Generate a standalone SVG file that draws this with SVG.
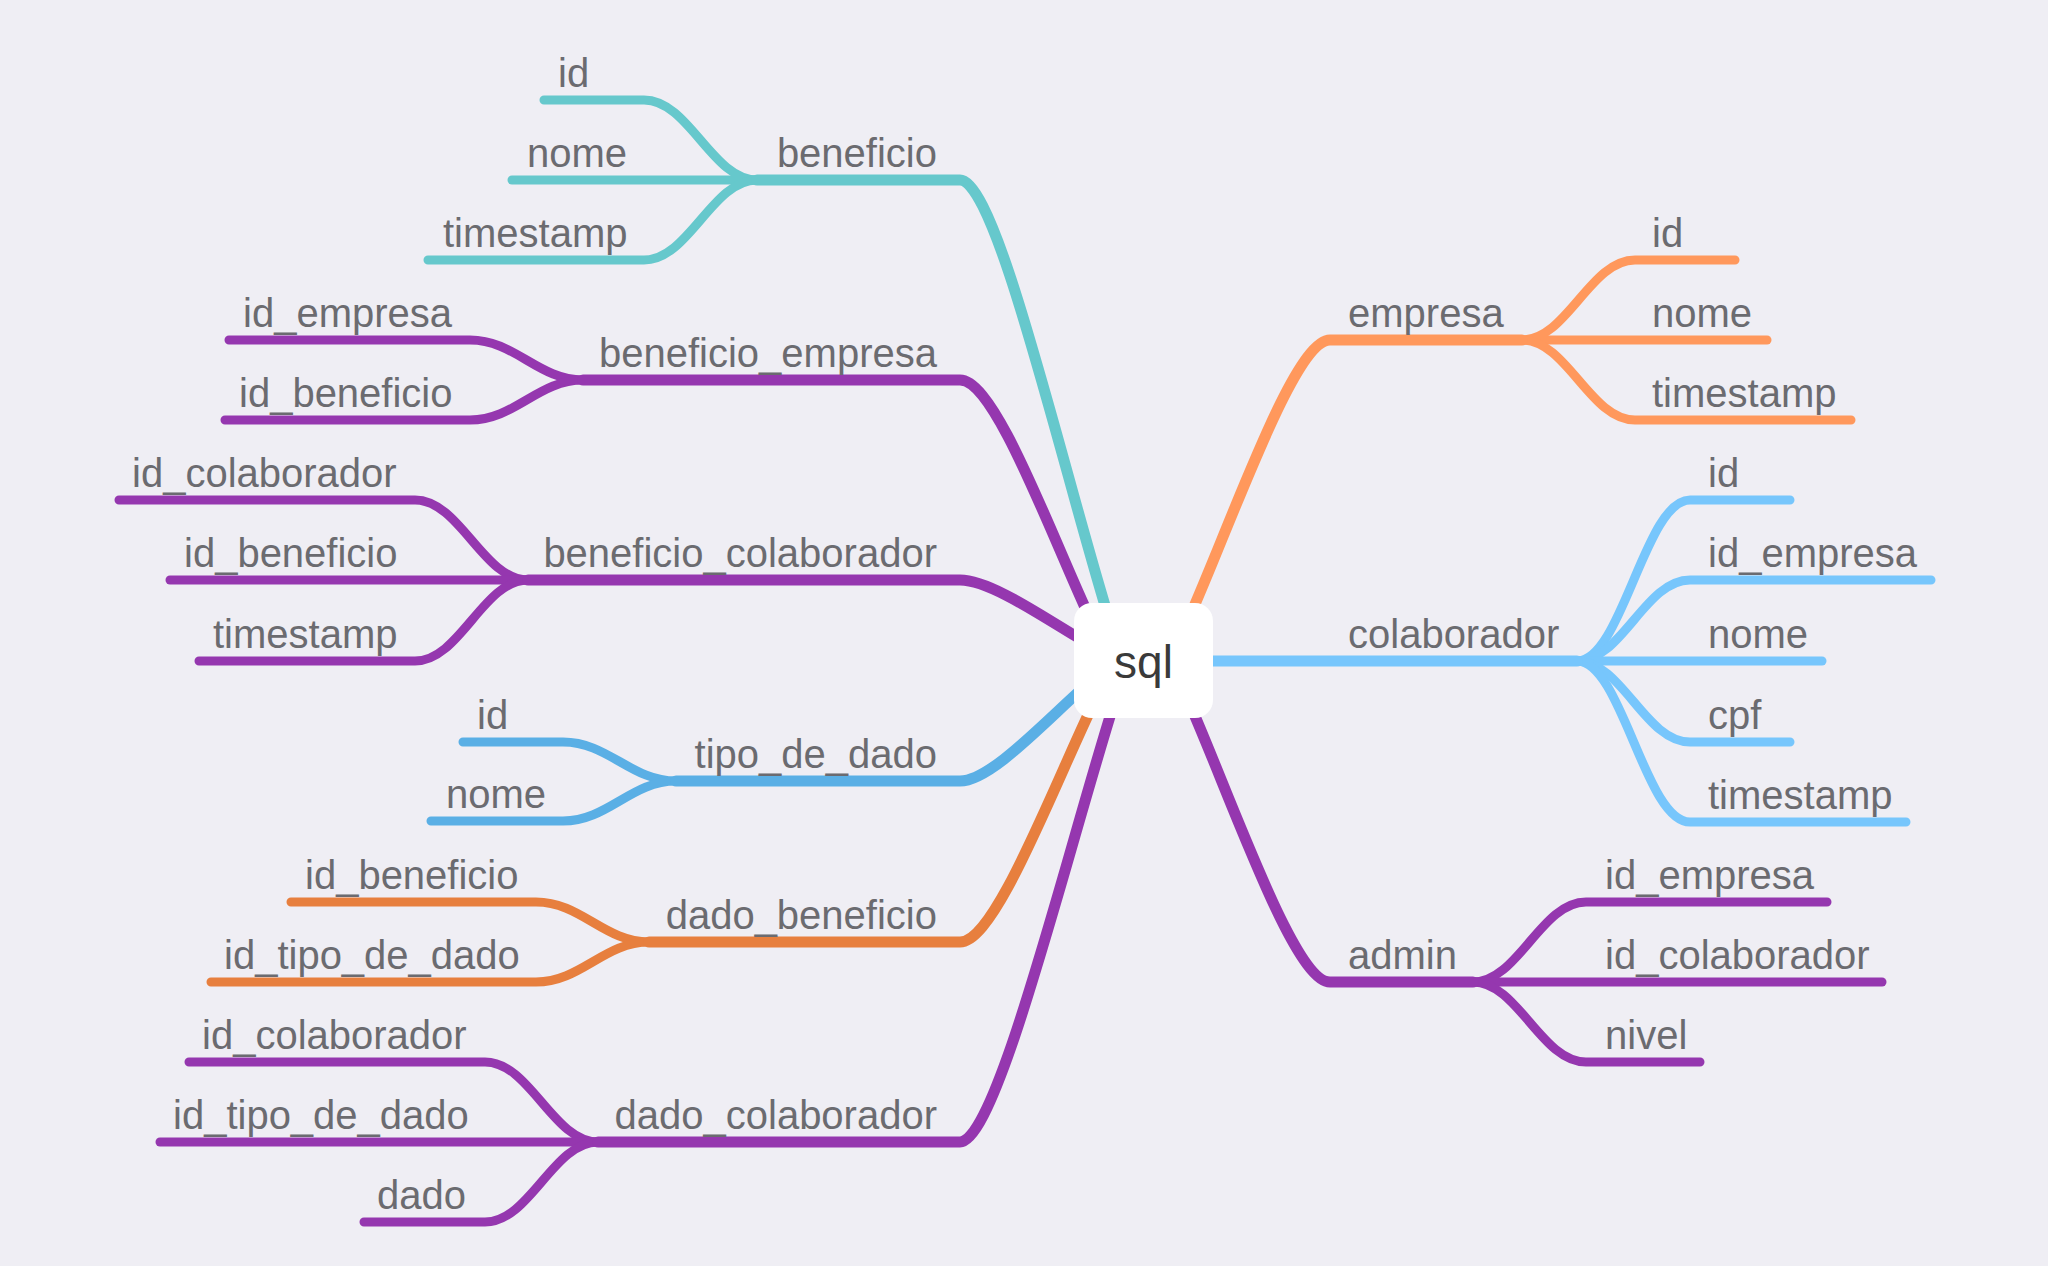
<svg xmlns="http://www.w3.org/2000/svg" width="2048" height="1266" viewBox="0 0 2048 1266">
<style>
.bg{fill:#efeef4}
.c{fill:none;stroke-linecap:round;stroke-linejoin:round}
.m{stroke-width:11}
.k{stroke-width:9}
.teal{stroke:#66c8cc}
.pur{stroke:#9537af}
.org{stroke:#ff985c}
.lbl{stroke:#77c6fc}
.blu{stroke:#5aafe5}
.dor{stroke:#e77f3e}
text{font-family:"Liberation Sans",Arial,sans-serif;font-size:40px;fill:#6b6b70}
.e{text-anchor:end}
.root{font-size:46px;fill:#3a3a3a;text-anchor:middle}
</style>
<rect class="bg" x="0" y="0" width="2048" height="1266"/>
<g id="connectors">
<!-- beneficio -->
<path class="c k teal" d="M757,180 C712,180 689,100 644,100 H544"/>
<path class="c k teal" d="M757,180 H512"/>
<path class="c k teal" d="M757,180 C712,180 689,260 644,260 H428"/>
<path class="c m teal" d="M1122,660 C1073,516 1000,180 960,180 H757"/>
<!-- beneficio_empresa -->
<path class="c k pur" d="M583,380 C538,380 515,340 470,340 H229"/>
<path class="c k pur" d="M583,380 C538,380 515,420 470,420 H225"/>
<path class="c m pur" d="M1110,660 C1065,576 1000,380 960,380 H583"/>
<!-- beneficio_colaborador -->
<path class="c k pur" d="M528,580 C483,580 460,500 415,500 H119"/>
<path class="c k pur" d="M528,580 H170"/>
<path class="c k pur" d="M528,580 C483,580 460,661 415,661 H199"/>
<path class="c m pur" d="M1120,660 C1080,645 1000,580 960,580 H528"/>
<!-- tipo_de_dado -->
<path class="c k blu" d="M676,781 C631,781 608,742 563,742 H463"/>
<path class="c k blu" d="M676,781 C631,781 608,821 563,821 H431"/>
<path class="c m blu" d="M1120,660 C1080,680 1000,781 960,781 H676"/>
<!-- dado_beneficio -->
<path class="c k dor" d="M649,942 C604,942 581,902 536,902 H291"/>
<path class="c k dor" d="M649,942 C604,942 581,982 536,982 H211"/>
<path class="c m dor" d="M1115,660 C1068,745 1000,942 960,942 H649"/>
<!-- dado_colaborador -->
<path class="c k pur" d="M598,1142 C553,1142 530,1062 485,1062 H189"/>
<path class="c k pur" d="M598,1142 H160"/>
<path class="c k pur" d="M598,1142 C553,1142 530,1222 485,1222 H364"/>
<path class="c m pur" d="M1128,660 C1078,805 1000,1142 960,1142 H598"/>
<!-- empresa -->
<path class="c k org" d="M1522,340 C1567,340 1590,260 1635,260 H1735"/>
<path class="c k org" d="M1522,340 H1767"/>
<path class="c k org" d="M1522,340 C1567,340 1590,420 1635,420 H1851"/>
<path class="c m org" d="M1170,660 C1218,564 1290,340 1330,340 H1522"/>
<!-- colaborador -->
<path class="c k lbl" d="M1577,661 C1622,661 1645,500 1690,500 H1790"/>
<path class="c k lbl" d="M1577,661 C1622,661 1645,580 1690,580 H1931"/>
<path class="c k lbl" d="M1577,661 H1822"/>
<path class="c k lbl" d="M1577,661 C1622,661 1645,742 1690,742 H1790"/>
<path class="c k lbl" d="M1577,661 C1622,661 1645,822 1690,822 H1906"/>
<path class="c m lbl" d="M1143,661 H1577"/>
<!-- admin -->
<path class="c k pur" d="M1473,982 C1518,982 1541,902 1586,902 H1827"/>
<path class="c k pur" d="M1473,982 H1882"/>
<path class="c k pur" d="M1473,982 C1518,982 1541,1062 1586,1062 H1700"/>
<path class="c m pur" d="M1170,660 C1218,757 1290,982 1330,982 H1473"/>
</g>
<g id="node-sql">
<rect x="1074" y="603" width="139" height="115" rx="18" ry="18" fill="#ffffff"/>
<text class="root" x="1143.5" y="678">sql</text>
</g>
<g id="node-beneficio"><text class="e" x="937" y="167">beneficio</text></g>
<g id="node-beneficio-id"><text x="558" y="87">id</text></g>
<g id="node-beneficio-nome"><text x="527" y="167">nome</text></g>
<g id="node-beneficio-timestamp"><text x="443" y="247">timestamp</text></g>
<g id="node-beneficio_empresa"><text class="e" x="937" y="367">beneficio_empresa</text></g>
<g id="node-be-id_empresa"><text x="243" y="327">id_empresa</text></g>
<g id="node-be-id_beneficio"><text x="239" y="407">id_beneficio</text></g>
<g id="node-beneficio_colaborador"><text class="e" x="937" y="567">beneficio_colaborador</text></g>
<g id="node-bc-id_colaborador"><text x="132" y="487">id_colaborador</text></g>
<g id="node-bc-id_beneficio"><text x="184" y="567">id_beneficio</text></g>
<g id="node-bc-timestamp"><text x="213" y="648">timestamp</text></g>
<g id="node-tipo_de_dado"><text class="e" x="937" y="768">tipo_de_dado</text></g>
<g id="node-td-id"><text x="477" y="729">id</text></g>
<g id="node-td-nome"><text x="446" y="808">nome</text></g>
<g id="node-dado_beneficio"><text class="e" x="937" y="929">dado_beneficio</text></g>
<g id="node-db-id_beneficio"><text x="305" y="889">id_beneficio</text></g>
<g id="node-db-id_tipo_de_dado"><text x="224" y="969">id_tipo_de_dado</text></g>
<g id="node-dado_colaborador"><text class="e" x="937" y="1129">dado_colaborador</text></g>
<g id="node-dc-id_colaborador"><text x="202" y="1049">id_colaborador</text></g>
<g id="node-dc-id_tipo_de_dado"><text x="173" y="1129">id_tipo_de_dado</text></g>
<g id="node-dc-dado"><text x="377" y="1209">dado</text></g>
<g id="node-empresa"><text x="1348" y="327">empresa</text></g>
<g id="node-em-id"><text x="1652" y="247">id</text></g>
<g id="node-em-nome"><text x="1652" y="327">nome</text></g>
<g id="node-em-timestamp"><text x="1652" y="407">timestamp</text></g>
<g id="node-colaborador"><text x="1348" y="648">colaborador</text></g>
<g id="node-co-id"><text x="1708" y="487">id</text></g>
<g id="node-co-id_empresa"><text x="1708" y="567">id_empresa</text></g>
<g id="node-co-nome"><text x="1708" y="648">nome</text></g>
<g id="node-co-cpf"><text x="1708" y="729">cpf</text></g>
<g id="node-co-timestamp"><text x="1708" y="809">timestamp</text></g>
<g id="node-admin"><text x="1348" y="969">admin</text></g>
<g id="node-ad-id_empresa"><text x="1605" y="889">id_empresa</text></g>
<g id="node-ad-id_colaborador"><text x="1605" y="969">id_colaborador</text></g>
<g id="node-ad-nivel"><text x="1605" y="1049">nivel</text></g>
</svg>
